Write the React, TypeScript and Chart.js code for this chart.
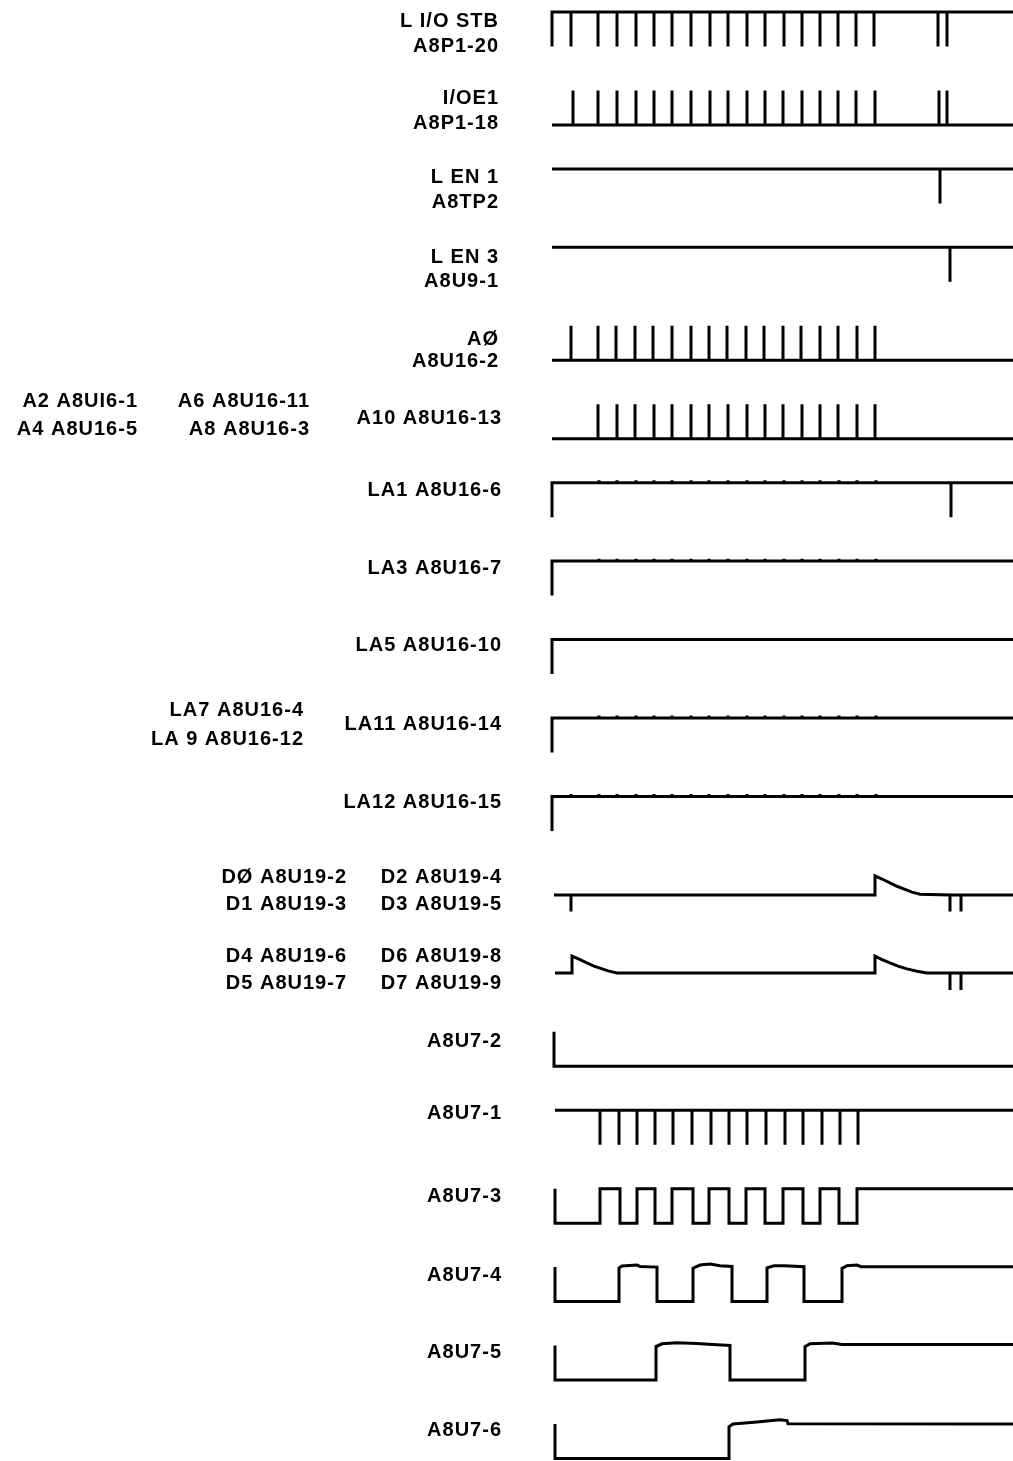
import React, { useEffect, useRef } from "react";
import { Chart, registerables } from "chart.js";

Chart.register(...registerables);

// ---- time axis (arbitrary time units) ----
const T_END = 461;

// ---- row order (top to bottom) ----
const ROWS = [
  "L I/O STB", "I/OE1", "L EN 1", "L EN 3", "A0", "A10",
  "LA1", "LA3", "LA5", "LA11", "LA12", "D0-D3", "D4-D7",
  "A8U7-2", "A8U7-1", "A8U7-3", "A8U7-4", "A8U7-5", "A8U7-6",
];

// ---- signal event times ----
const STB_PULSES = [19, 46, 65, 84, 102, 120, 139, 158, 176, 195, 213, 232, 250, 268, 286, 304, 322, 386, 395];
const IOE1_PULSES = [21, 46, 65, 84, 102, 120, 139, 158, 176, 195, 213, 231, 250, 268, 286, 304, 323, 387, 395];
const EN1_PULSES = [388];
const EN3_PULSES = [398];
const A0_PULSES = [19, 46, 64, 83, 101, 120, 139, 157, 175, 194, 212, 231, 249, 268, 286, 305, 323];
const A10_PULSES = [46, 65, 83, 102, 120, 139, 157, 176, 195, 213, 231, 250, 268, 286, 305, 323];
const LA_GLITCHES = [47, 65, 84, 102, 120, 139, 157, 176, 195, 213, 232, 250, 268, 287, 305, 324];
const LA12_GLITCHES = [19, 47, 65, 84, 102, 120, 139, 157, 176, 195, 213, 232, 250, 268, 287, 305, 324];
const LA1_PULSES = [399];
const D_PULSES = [398, 409];
const U7_1_PULSES = [48, 67, 85, 103, 121, 140, 159, 177, 195, 214, 233, 251, 270, 288, 306];
const U7_3_EDGES = [48, 68, 85, 103, 120, 141, 157, 177, 194, 213, 231, 251, 268, 287, 305];

// ---- analog-ish traces: [time, level] ----
const D03_WAVE: [number, number][] = [
  [2, 0.42], [19, 0.42], [19, -0.06], [19, 0.42], [323, 0.42], [323, 0.97],
  [330, 0.88], [338, 0.77], [345, 0.67], [351, 0.6], [360, 0.5], [368, 0.44], [398, 0.42],
];
const D47_WAVE: [number, number][] = [
  [3, 0.43], [20, 0.43], [20, 0.92], [27, 0.83], [35, 0.72], [42, 0.63], [48, 0.57], [56, 0.49], [65, 0.43],
  [323, 0.43], [323, 0.92], [330, 0.82], [338, 0.72], [346, 0.63], [355, 0.55], [365, 0.48], [375, 0.43], [398, 0.43],
];
const U7_2_WAVE: [number, number][] = [[2, 1], [2, 0], [T_END, 0]];
const U7_4_WAVE: [number, number][] = [
  [3, 1], [3, 0], [67, 0], [67, 0.97], [70, 1.03], [85, 1.06], [88, 1.02], [105, 1.0], [105, 0],
  [141, 0], [141, 0.97], [148, 1.06], [158, 1.09], [168, 1.04], [180, 1.02], [180, 0],
  [215, 0], [215, 0.98], [222, 1.04], [232, 1.04], [252, 1.01], [252, 0],
  [290, 0], [290, 0.96], [295, 1.04], [305, 1.06], [309, 1.01], [T_END, 1.01],
];
const U7_5_WAVE: [number, number][] = [
  [3, 1], [3, 0], [104, 0], [104, 0.97], [110, 1.05], [125, 1.08], [145, 1.06], [165, 1.02], [178, 1.0], [178, 0],
  [253, 0], [253, 0.97], [258, 1.05], [280, 1.07], [290, 1.03], [T_END, 1.03],
];
const U7_6_WAVE: [number, number][] = [
  [3, 1], [3, 0], [177, 0], [177, 0.92], [181, 1.0], [205, 1.06], [228, 1.12], [235, 1.1], [236, 1.01], [T_END, 1.0],
];

// ---- label texts ----
const LABEL_TEXTS = {
  stb: ["L I/O STB", "A8P1-20"],
  ioe1: ["I/OE1", "A8P1-18"],
  en1: ["L EN 1", "A8TP2"],
  en3: ["L EN 3", "A8U9-1"],
  a0: ["AØ", "A8U16-2"],
  a10: ["A10 A8U16-13"],
  a2a4: ["A2 A8UI6-1", "A4 A8U16-5"],
  a6a8: ["A6 A8U16-11", "A8 A8U16-3"],
  la1: ["LA1 A8U16-6"],
  la3: ["LA3 A8U16-7"],
  la5: ["LA5 A8U16-10"],
  la11: ["LA11 A8U16-14"],
  la7la9: ["LA7 A8U16-4", "LA 9 A8U16-12"],
  la12: ["LA12 A8U16-15"],
  d01: ["DØ A8U19-2", "D1 A8U19-3"],
  d23: ["D2 A8U19-4", "D3 A8U19-5"],
  d45: ["D4 A8U19-6", "D5 A8U19-7"],
  d67: ["D6 A8U19-8", "D7 A8U19-9"],
  u72: ["A8U7-2"],
  u71: ["A8U7-1"],
  u73: ["A8U7-3"],
  u74: ["A8U7-4"],
  u75: ["A8U7-5"],
  u76: ["A8U7-6"],
};

// ---- layout (not data) ----
const Y_MIN = -0.153;
const Y_MAX = 18.472;
const AMP = 0.44;
const PLOT_LEFT = 552;
const W = 1013;
const H = 1461;
// [key, row, first line offset (px from row top), right edge px, line gap px]
const LABEL_LAYOUT: [keyof typeof LABEL_TEXTS, number, number, number, number][] = [
  ["stb", 0, 9, 499, 25],
  ["ioe1", 1, 8, 499, 25],
  ["en1", 2, 9, 499, 25],
  ["en3", 3, 10, 499, 24],
  ["a0", 4, 14, 499, 22],
  ["a10", 5, 14, 502, 0],
  ["a2a4", 5, -3, 138, 28],
  ["a6a8", 5, -3, 310, 28],
  ["la1", 6, 8, 502, 0],
  ["la3", 7, 7, 502, 0],
  ["la5", 8, 6, 502, 0],
  ["la11", 9, 6, 502, 0],
  ["la7la9", 9, -8, 304, 29],
  ["la12", 10, 6, 502, 0],
  ["d01", 11, 3, 347, 27],
  ["d23", 11, 3, 502, 27],
  ["d45", 12, 3, 347, 27],
  ["d67", 12, 3, 502, 27],
  ["u72", 13, 10, 502, 0],
  ["u71", 14, 3, 502, 0],
  ["u73", 15, 8, 502, 0],
  ["u74", 16, 8, 502, 0],
  ["u75", 17, 7, 502, 0],
  ["u76", 18, 7, 502, 0],
];

type P = { x: number; y: number };
const yOf = (row: number, level: number) => row + (1 - level) * AMP;

function fromWave(row: number, wave: [number, number][]): P[] {
  return wave.map(([t, l]) => ({ x: t, y: yOf(row, l) }));
}

// a flat line at `base` with narrow spikes to `peak` at each time
function spikes(row: number, start: number, base: number, peak: number, times: number[], startFrom?: number): P[] {
  const pts: P[] = [];
  if (startFrom !== undefined) pts.push({ x: start, y: yOf(row, startFrom) });
  pts.push({ x: start, y: yOf(row, base) });
  for (const t of times) {
    pts.push({ x: t, y: yOf(row, base) });
    pts.push({ x: t, y: yOf(row, peak) });
    pts.push({ x: t, y: yOf(row, base) });
  }
  pts.push({ x: T_END, y: yOf(row, base) });
  return pts;
}

function edges(row: number, start: number, times: number[]): P[] {
  const pts: P[] = [{ x: start, y: yOf(row, 1) }, { x: start, y: yOf(row, 0) }];
  let lvl = 0;
  for (const t of times) {
    pts.push({ x: t, y: yOf(row, lvl) });
    lvl = 1 - lvl;
    pts.push({ x: t, y: yOf(row, lvl) });
  }
  pts.push({ x: T_END, y: yOf(row, lvl) });
  return pts;
}

function withPulses(row: number, head: P[], from: number, base: number, peak: number, times: number[]): P[] {
  return [...head, ...spikes(row, from, base, peak, times)];
}

function buildTraces(): P[][] {
  const la1Head = spikes(6, 0, 1, 1.07, LA_GLITCHES, 0);
  la1Head.pop();
  return [
    spikes(0, 0, 1, 0, STB_PULSES, 0),
    spikes(1, 0, 0, 1, IOE1_PULSES),
    spikes(2, 0, 1, 0, EN1_PULSES),
    spikes(3, 0, 1, 0, EN3_PULSES),
    spikes(4, 0, 0, 1, A0_PULSES),
    spikes(5, 0, 0, 1, A10_PULSES),
    withPulses(6, la1Head, LA1_PULSES[0], 1, 0, LA1_PULSES),
    spikes(7, 0, 1, 1.07, LA_GLITCHES, 0),
    spikes(8, 0, 1, 1.0, [], 0),
    spikes(9, 0, 1, 1.07, LA_GLITCHES, 0),
    spikes(10, 0, 1, 1.07, LA12_GLITCHES, 0),
    withPulses(11, fromWave(11, D03_WAVE), D_PULSES[0], 0.42, -0.06, D_PULSES),
    withPulses(12, fromWave(12, D47_WAVE), D_PULSES[0], 0.43, -0.06, D_PULSES),
    fromWave(13, U7_2_WAVE),
    spikes(14, 3, 1, 0, U7_1_PULSES),
    edges(15, 3, U7_3_EDGES),
    fromWave(16, U7_4_WAVE),
    fromWave(17, U7_5_WAVE),
    fromWave(18, U7_6_WAVE),
  ];
}

const labelPlugin = {
  id: "timingLabels",
  afterDraw(chart: any) {
    const { ctx } = chart;
    const ys = chart.scales.y;
    ctx.save();
    ctx.fillStyle = "#000";
    ctx.font = 'bold 20px "Liberation Sans", Arial, sans-serif';
    try { (ctx as any).letterSpacing = "1px"; } catch (e) {}
    ctx.textAlign = "right";
    ctx.textBaseline = "middle";
    for (const [key, row, off, right, gap] of LABEL_LAYOUT) {
      const top = ys.getPixelForValue(row);
      LABEL_TEXTS[key].forEach((line, i) => {
        ctx.fillText(line, right, top + off + i * gap);
      });
    }
    ctx.restore();
  },
};

export default function App() {
  const ref = useRef<HTMLCanvasElement | null>(null);
  useEffect(() => {
    if (!ref.current) return;
    const traces = buildTraces();
    const chart = new Chart(ref.current, {
      type: "line",
      data: {
        datasets: traces.map((pts, i) => ({
          label: ROWS[i],
          data: pts,
          borderColor: "#000",
          borderWidth: 3,
          pointRadius: 0,
          fill: false,
          tension: 0,
          clip: false as any,
          borderJoinStyle: "miter" as const,
        })),
      },
      options: {
        animation: false,
        responsive: false,
        events: [],
        layout: { padding: { left: PLOT_LEFT, right: 0, top: 0, bottom: 0 } },
        scales: {
          x: { type: "linear", min: 0, max: T_END, display: false },
          y: { type: "linear", min: Y_MIN, max: Y_MAX, reverse: true, display: false },
        },
        plugins: { legend: { display: false }, tooltip: { enabled: false } },
      },
      plugins: [labelPlugin],
    });
    return () => chart.destroy();
  }, []);
  return (
    <div style={{ position: "absolute", left: 0, top: 0, width: W, height: H, background: "#fff", overflow: "hidden" }}>
      <canvas ref={ref} width={W} height={H} style={{ display: "block" }} />
    </div>
  );
}
